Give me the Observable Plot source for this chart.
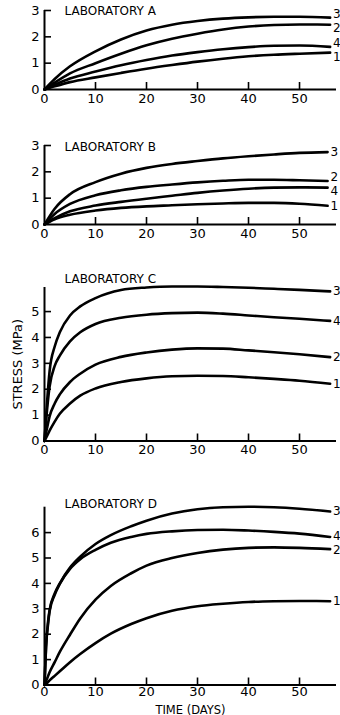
<!DOCTYPE html>
<html>
<head>
<meta charset="utf-8">
<script src="https://cdn.jsdelivr.net/npm/d3@7"></script>
<script src="https://cdn.jsdelivr.net/npm/@observablehq/plot@0.6"></script>
<style>
  html, body { margin: 0; padding: 0; background: #fff; }
  #root { position: relative; width: 340px; height: 715px; background: #fff; overflow: hidden; }
  #root svg { position: absolute; left: 0; }
</style>
</head>
<body>
<div id="root"></div>
<script>
// ---- Data ----
const xTicks = [10, 20, 30, 40, 50];
const xTickLabels = [0, 10, 20, 30, 40, 50];
const seriesNames = ["3", "2", "4", "1"];

const titleA = "LABORATORY A";
const daysA = [0, 2, 5, 10, 15, 20, 25, 30, 35, 40, 45, 50, 56];
const A3 = [0, 0.40, 0.88, 1.45, 1.90, 2.24, 2.46, 2.60, 2.69, 2.74, 2.76, 2.76, 2.73];
const A2 = [0, 0.26, 0.61, 1.00, 1.36, 1.68, 1.93, 2.12, 2.28, 2.39, 2.45, 2.47, 2.46];
const A4 = [0, 0.18, 0.42, 0.68, 0.92, 1.12, 1.29, 1.42, 1.53, 1.61, 1.66, 1.67, 1.62];
const A1 = [0, 0.12, 0.28, 0.46, 0.63, 0.79, 0.93, 1.06, 1.17, 1.26, 1.32, 1.36, 1.40];
const yTicksA = [0, 1, 2, 3];

const titleB = "LABORATORY B";
const daysB = [0, 2, 5, 10, 15, 20, 25, 30, 35, 40, 45, 50, 55.5];
const B3 = [0, 0.60, 1.15, 1.61, 1.93, 2.15, 2.30, 2.41, 2.51, 2.59, 2.66, 2.72, 2.75];
const B2 = [0, 0.40, 0.78, 1.11, 1.30, 1.43, 1.52, 1.60, 1.66, 1.70, 1.70, 1.68, 1.65];
const B4 = [0, 0.24, 0.50, 0.72, 0.86, 0.98, 1.09, 1.20, 1.29, 1.36, 1.40, 1.41, 1.40];
const B1 = [0, 0.20, 0.37, 0.53, 0.63, 0.69, 0.73, 0.77, 0.80, 0.82, 0.82, 0.79, 0.71];
const yTicksB = [0, 1, 2, 3];

const titleC = "LABORATORY C";
const daysC = [0, 0.5, 1, 2, 3, 5, 7, 10, 15, 20, 25, 30, 35, 40, 45, 50, 56];
const C3 = [0, 1.5, 2.7, 3.65, 4.2, 4.85, 5.2, 5.52, 5.83, 5.93, 5.97, 5.97, 5.95, 5.92, 5.88, 5.84, 5.78];
const C4 = [0, 1.2, 2.1, 2.9, 3.3, 3.85, 4.2, 4.52, 4.76, 4.88, 4.94, 4.96, 4.92, 4.85, 4.78, 4.72, 4.64];
const C2 = [0, 0.5, 0.95, 1.45, 1.8, 2.28, 2.6, 2.95, 3.25, 3.42, 3.53, 3.58, 3.57, 3.50, 3.43, 3.35, 3.24];
const C1 = [0, 0.2, 0.4, 0.75, 1.05, 1.45, 1.75, 2.03, 2.28, 2.42, 2.50, 2.52, 2.51, 2.46, 2.40, 2.33, 2.21];
const yTicksC = [0, 1, 2, 3, 4, 5];
const yLabel = "STRESS (MPa)";

const titleD = "LABORATORY D";
const daysD = [0, 0.3, 0.7, 1, 2, 3, 5, 7, 10, 13, 17, 20, 25, 30, 35, 40, 45, 50, 56];
const D3 = [0, 1.5, 2.5, 2.95, 3.6, 4.0, 4.62, 5.05, 5.55, 5.9, 6.25, 6.47, 6.75, 6.92, 7.0, 7.02, 7.0, 6.94, 6.83];
const D4 = [0, 1.5, 2.4, 2.9, 3.55, 3.98, 4.57, 4.95, 5.32, 5.6, 5.83, 5.95, 6.05, 6.1, 6.11, 6.08, 6.03, 5.96, 5.83];
const D2 = [0, 0.15, 0.35, 0.5, 0.9, 1.3, 1.98, 2.62, 3.36, 3.9, 4.4, 4.7, 5.0, 5.2, 5.33, 5.4, 5.42, 5.4, 5.35];
const D1 = [0, 0.05, 0.12, 0.18, 0.36, 0.54, 0.9, 1.22, 1.65, 2.02, 2.4, 2.63, 2.92, 3.1, 3.2, 3.27, 3.3, 3.31, 3.3];
const yTicksD = [0, 1, 2, 3, 4, 5, 6];
const xLabel = "TIME (DAYS)";

// ---- Layout ----
const W = 340, ML = 44, MR = 4;
const XMAX = 57.25;
const FONT = "'DejaVu Sans', 'Liberation Sans', sans-serif";
const MINGAP = 14;

function rowsOf(days, vals, name) {
  return days.map((d, i) => ({day: d, v: vals[i], s: name}));
}

// spread end labels apart vertically so they do not collide
function spread(ends, toPx) {
  const items = ends.map(e => ({e, y0: toPx(e.v), y: toPx(e.v)})).sort((a, b) => a.y0 - b.y0);
  for (let it = 0; it < 60; it++) {
    for (let i = 1; i < items.length; i++) {
      const gap = items[i].y - items[i - 1].y;
      if (gap < MINGAP) {
        const push = (MINGAP - gap) / 2;
        items[i].y += push;
        items[i - 1].y -= push;
      }
    }
  }
  return items.map(d => ({row: d.e, dy: d.y - d.y0}));
}

function panel({top, height, marginTop, marginBottom, ymax, yTicks, days, vals, title, titleDy, xPad = 4, extra = []}) {
  const plotH = height - marginTop - marginBottom;
  const plotW = W - ML - MR;
  const rows = [];
  const ends = [];
  seriesNames.forEach((n, k) => {
    const r = rowsOf(days, vals[k], n);
    rows.push(...r);
    ends.push(r[r.length - 1]);
  });
  const toPx = v => marginTop + plotH * (1 - v / ymax);
  const labelMarks = spread(ends, toPx).map(({row, dy}) =>
    Plot.text([row], {x: "day", y: "v", text: "s", textAnchor: "start", dx: 3, dy, fontSize: 12}));
  const svg = Plot.plot({
    width: W, height, marginLeft: ML, marginRight: MR, marginTop, marginBottom,
    style: {fontFamily: FONT, fontSize: "13px", color: "#000", background: "transparent", overflow: "visible"},
    x: {domain: [0, XMAX]},
    y: {domain: [0, ymax]},
    marks: [
      Plot.axisX({ticks: xTickLabels, tickFormat: d => String(d), tickSize: 0, tickPadding: xPad, label: null, fontSize: 13, letterSpacing: 0.6}),
      Plot.axisY({ticks: yTicks, tickFormat: d => String(d), tickSize: 0, tickPadding: 5, label: null, fontSize: 13}),
      Plot.tickX(xTicks, {x: d => d, insetTop: plotH - 7, strokeWidth: 1.6, stroke: "#000"}),
      Plot.tickY(yTicks.filter(d => d > 0), {y: d => d, insetRight: plotW - 7, strokeWidth: 1.6, stroke: "#000"}),
      Plot.ruleX([0], {strokeWidth: 2, stroke: "#000"}),
      Plot.ruleY([0], {strokeWidth: 2, stroke: "#000"}),
      Plot.line(rows, {x: "day", y: "v", z: "s", curve: "monotone-x", stroke: "#000", strokeWidth: 2.6}),
      ...labelMarks,
      Plot.text([title], {frameAnchor: "top-left", dx: 20, dy: titleDy, lineAnchor: "middle", fontSize: 12, letterSpacing: 1.7, wordSpacing: 7}),
      ...extra
    ]
  });
  svg.style.top = top + "px";
  document.getElementById("root").appendChild(svg);
}

panel({top: 0, height: 110, marginTop: 10, marginBottom: 21, ymax: 3, yTicks: yTicksA,
  days: daysA, vals: [A3, A2, A4, A1], title: titleA, titleDy: 1});

panel({top: 135, height: 110, marginTop: 10, marginBottom: 21, ymax: 3, yTicks: yTicksB,
  days: daysB, vals: [B3, B2, B4, B1], title: titleB, titleDy: 2});

panel({top: 265, height: 196.5, marginTop: 22, marginBottom: 21, ymax: 5.93, yTicks: yTicksC,
  days: daysC, vals: [C3, C2, C4, C1], title: titleC, titleDy: -8,
  extra: [Plot.text([yLabel], {frameAnchor: "left", textAnchor: "middle", dx: -27, rotate: -90, fontSize: 13, letterSpacing: 1.5, wordSpacing: 4})]});

panel({top: 490, height: 225, marginTop: 16.7, marginBottom: 30.5, ymax: 7, yTicks: yTicksD,
  days: daysD, vals: [D3, D2, D4, D1], title: titleD, titleDy: -3, xPad: 2,
  extra: [Plot.text([xLabel], {frameAnchor: "bottom", dy: 28.5, fontSize: 11.5, letterSpacing: 1.3, wordSpacing: 7})]});
</script>
</body>
</html>
